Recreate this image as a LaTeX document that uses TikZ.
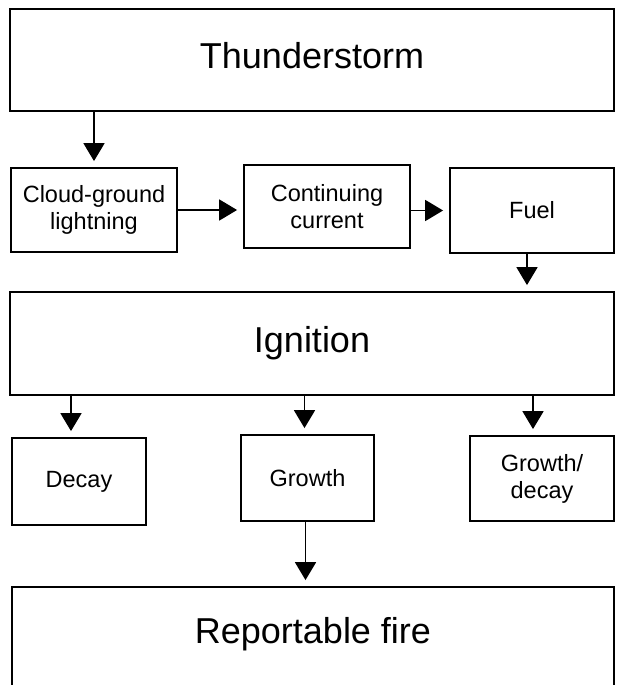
\documentclass[tikz,border=0pt]{standalone}
\usepackage{fontspec}
\setmainfont{Liberation Sans}
\usetikzlibrary{arrows.meta}

\begin{document}
\begin{tikzpicture}[x=1pt,y=-1pt,
	bigbox/.style={draw,line width=1.8pt,minimum width=604pt,minimum height=103pt,inner sep=0pt,font=\fontsize{36}{40}\selectfont},
	smallbox/.style={draw,line width=1.8pt,inner sep=0pt,align=center,font=\fontsize{23.5}{27}\selectfont},
	arr/.style={line width=1.8pt,-{Triangle[length=18pt,width=21pt]},shorten >=6pt}]
					\useasboundingbox (0,0) rectangle (616,685);
					%Top
					\node[bigbox,minimum height=102pt,text depth=10pt] (storm) at (312,60) {Thunderstorm};
					%Row 1
					\node[smallbox,minimum width=166pt,minimum height=84pt] (cloud) at (94,210) {Cloud-ground\\lightning};
					\node[smallbox,minimum width=166pt,minimum height=83pt] (current) at (327,206.5) {Continuing\\current};
					\node[smallbox,minimum width=164pt,minimum height=85pt] (fuel) at (532,210.5) {Fuel};
					\draw[arr] (cloud.north |- storm.south)--(cloud.north);
					\draw[arr] (cloud)--(cloud -| current.west);
					\draw[arr] (current.east |- fuel)--(fuel.west);
					%Middle
					\node[bigbox] (ignition) at (312,343.5) {Ignition};
					\draw[arr] ([xshift=-5pt]fuel.south)--([xshift=-5pt]fuel.south |- ignition.north);
					%Row 2
					\node[smallbox,minimum width=134pt,minimum height=87pt] (decay) at (79,481.5) {Decay};
					\node[smallbox,minimum width=133pt,minimum height=86pt] (growth) at (307.5,478) {Growth};
					\node[smallbox,minimum width=144pt,minimum height=85pt] (mixed) at (542,478.5) {Growth/\\decay};
					\draw[arr] ([xshift=-8pt]decay.north |- ignition.south)--([xshift=-8pt]decay.north);
					\draw[arr] ([xshift=-3pt]growth.north |- ignition.south)--([xshift=-3pt]growth.north);
					\draw[arr] ([xshift=-9pt]mixed.north |- ignition.south)--([xshift=-9pt]mixed.north);
					%Bottom
					\node[bigbox,minimum width=602pt,minimum height=106pt,text depth=20pt] (report) at (313,640) {Reportable fire};
					\draw[arr] ([xshift=-2pt]growth.south)--([xshift=-2pt]growth.south |- report.north);
					
\end{tikzpicture}
\end{document}
